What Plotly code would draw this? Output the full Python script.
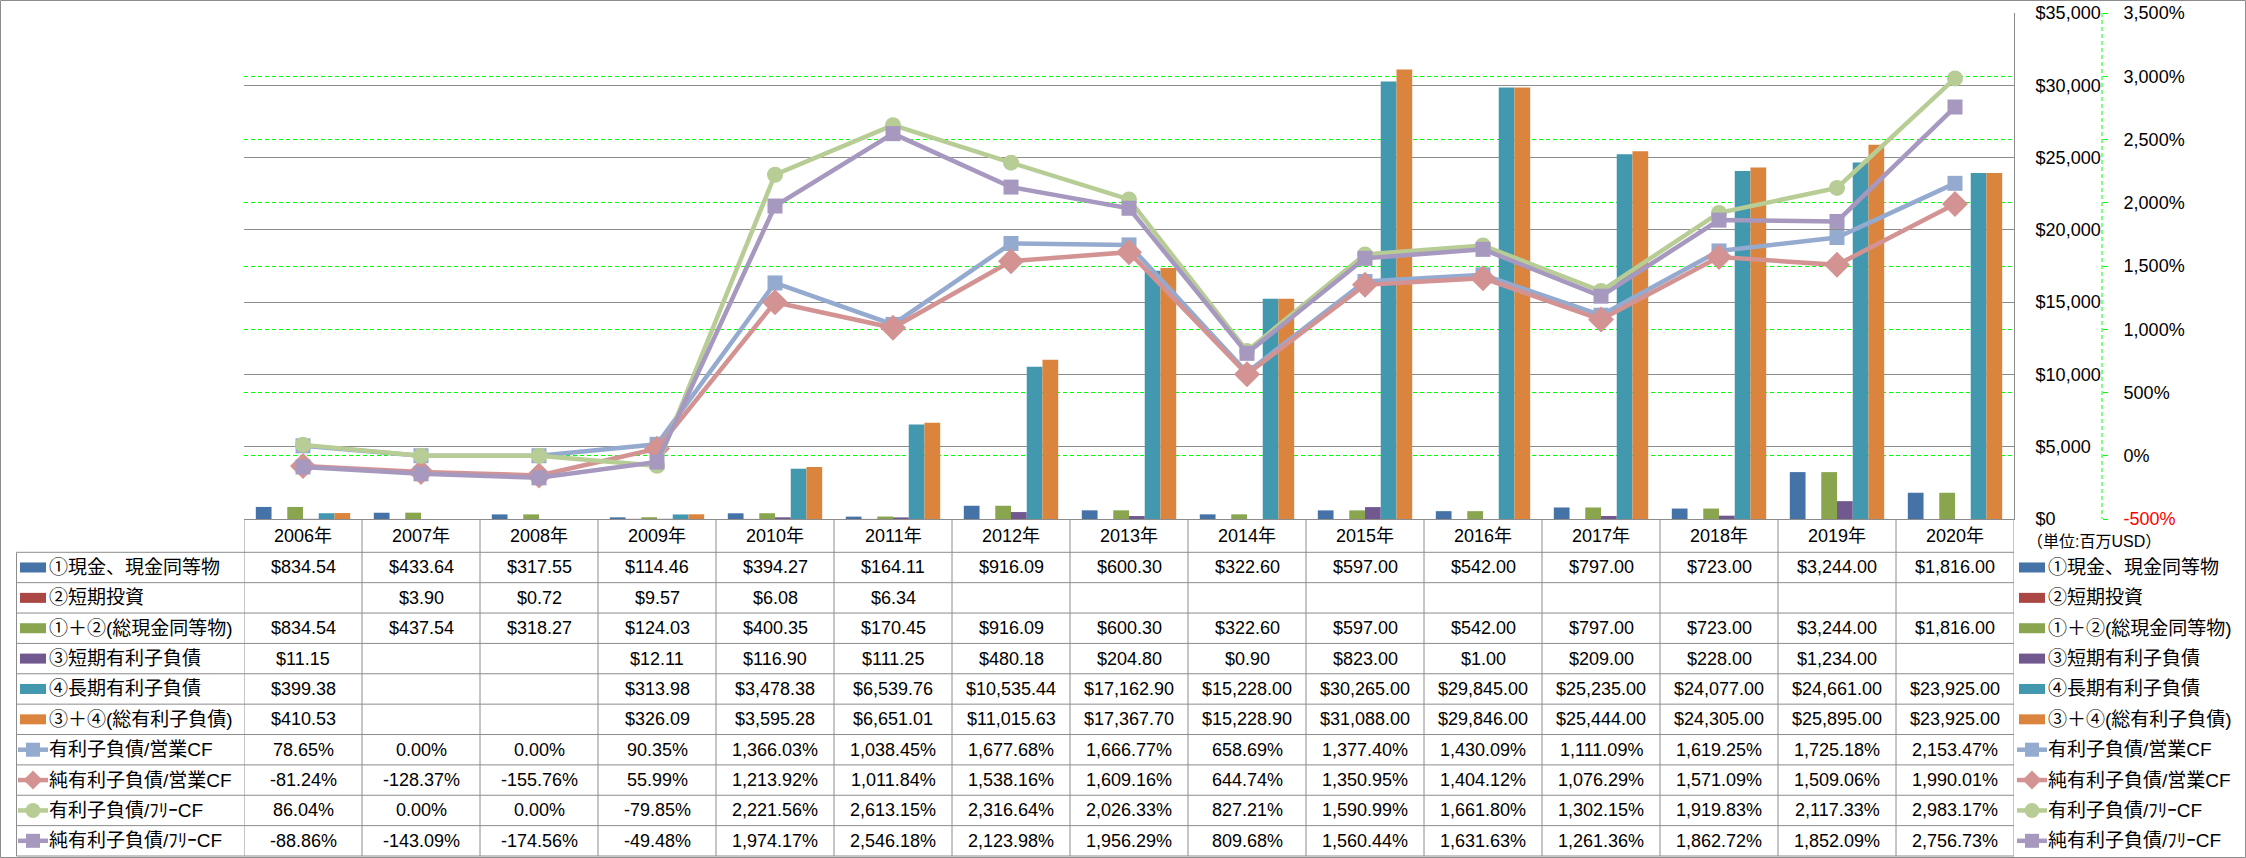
import plotly.graph_objects as go

W, H = 2246, 858

years = ["2006年", "2007年", "2008年", "2009年", "2010年", "2011年", "2012年", "2013年",
         "2014年", "2015年", "2016年", "2017年", "2018年", "2019年", "2020年"]

cash = [834.54, 433.64, 317.55, 114.46, 394.27, 164.11, 916.09, 600.30, 322.60,
        597.00, 542.00, 797.00, 723.00, 3244.00, 1816.00]
short_inv = [None, 3.90, 0.72, 9.57, 6.08, 6.34, None, None, None,
             None, None, None, None, None, None]
total_cash = [834.54, 437.54, 318.27, 124.03, 400.35, 170.45, 916.09, 600.30, 322.60,
              597.00, 542.00, 797.00, 723.00, 3244.00, 1816.00]
short_debt = [11.15, None, None, 12.11, 116.90, 111.25, 480.18, 204.80, 0.90,
              823.00, 1.00, 209.00, 228.00, 1234.00, None]
long_debt = [399.38, None, None, 313.98, 3478.38, 6539.76, 10535.44, 17162.90, 15228.00,
             30265.00, 29845.00, 25235.00, 24077.00, 24661.00, 23925.00]
total_debt = [410.53, None, None, 326.09, 3595.28, 6651.01, 11015.63, 17367.70, 15228.90,
              31088.00, 29846.00, 25444.00, 24305.00, 25895.00, 23925.00]

debt_ocf = [78.65, 0.00, 0.00, 90.35, 1366.03, 1038.45, 1677.68, 1666.77, 658.69,
            1377.40, 1430.09, 1111.09, 1619.25, 1725.18, 2153.47]
netdebt_ocf = [-81.24, -128.37, -155.76, 55.99, 1213.92, 1011.84, 1538.16, 1609.16, 644.74,
               1350.95, 1404.12, 1076.29, 1571.09, 1509.06, 1990.01]
debt_fcf = [86.04, 0.00, 0.00, -79.85, 2221.56, 2613.15, 2316.64, 2026.33, 827.21,
            1590.99, 1661.80, 1302.15, 1919.83, 2117.33, 2983.17]
netdebt_fcf = [-88.86, -143.09, -174.56, -49.48, 1974.17, 2546.18, 2123.98, 1956.29, 809.68,
               1560.44, 1631.63, 1261.36, 1862.72, 1852.09, 2756.73]

usd_ticks = [0, 5000, 10000, 15000, 20000, 25000, 30000, 35000]
pct_ticks = [-500, 0, 500, 1000, 1500, 2000, 2500, 3000, 3500]

# ---- styles ----
C_BLUE, C_RED, C_GREEN, C_PURPLE, C_AQUA, C_ORANGE = (
    "#4572A7", "#AA4643", "#89A54E", "#71588F", "#4198AF", "#DB843D")
L_BLUE, L_PINK, L_GREEN, L_PURPLE = "#95AACF", "#D39393", "#B7CD95", "#A698BF"
GRAY = "#8C8C8C"
LIME = "#00FF00"
FONT = "Liberation Sans, Noto Sans CJK JP, sans-serif"

PLOT_L, PLOT_R, PLOT_T, PLOT_B = 244, 2014, 13, 519
Y2_X = 2102
ROW_TOP = 552.3
ROW_H = 30.37
N_ROWS = 10
TABLE_L = 16.5
TABLE_BOTTOM = ROW_TOP + ROW_H * N_ROWS


def X(px):
    return px / W


def Y(py):
    return 1 - py / H


rows = [
    ("①現金、現金同等物", cash, "bar", C_BLUE, None),
    ("②短期投資", short_inv, "bar", C_RED, None),
    ("①＋②(総現金同等物)", total_cash, "bar", C_GREEN, None),
    ("③短期有利子負債", short_debt, "bar", C_PURPLE, None),
    ("④長期有利子負債", long_debt, "bar", C_AQUA, None),
    ("③＋④(総有利子負債)", total_debt, "bar", C_ORANGE, None),
    ("有利子負債/営業CF", debt_ocf, "line", L_BLUE, "square"),
    ("純有利子負債/営業CF", netdebt_ocf, "line", L_PINK, "diamond"),
    ("有利子負債/ﾌﾘｰCF", debt_fcf, "line", L_GREEN, "circle"),
    ("純有利子負債/ﾌﾘｰCF", netdebt_fcf, "line", L_PURPLE, "square"),
]
marker_sizes = {"square": 15, "diamond": 20, "circle": 16}

fig = go.Figure()

for name, vals, kind, color, sym in rows:
    if kind == "bar":
        fig.add_trace(go.Bar(x=years, y=vals, name=name, marker=dict(color=color, line=dict(width=0)),
                             yaxis="y", hoverinfo="skip"))
for name, vals, kind, color, sym in rows:
    if kind == "line":
        fig.add_trace(go.Scatter(x=years, y=vals, name=name, mode="lines+markers", yaxis="y2",
                                 line=dict(color=color, width=4.5),
                                 marker=dict(symbol=sym, size=marker_sizes[sym], color=color,
                                             line=dict(width=0)),
                                 hoverinfo="skip"))

shapes = []
annotations = []

# outer border
shapes.append(dict(type="rect", xref="paper", yref="paper", x0=X(0.5), x1=X(W - 0.5),
                   y0=Y(0.5), y1=Y(H - 0.5), line=dict(color=GRAY, width=1), layer="below"))
# secondary axis dashed line
shapes.append(dict(type="line", xref="paper", yref="paper", x0=X(Y2_X), x1=X(Y2_X),
                   y0=Y(PLOT_T), y1=Y(PLOT_B), line=dict(color=LIME, width=1, dash="4px,3px")))

# table horizontal lines
for i in range(N_ROWS + 1):
    yy = ROW_TOP + ROW_H * i
    shapes.append(dict(type="line", xref="paper", yref="paper", x0=X(TABLE_L), x1=X(PLOT_R),
                       y0=Y(yy), y1=Y(yy), line=dict(color=GRAY, width=1)))
# table vertical lines
for k in range(len(years) + 1):
    shapes.append(dict(type="line", xref="x", yref="paper", x0=k - 0.5, x1=k - 0.5,
                       y0=Y(PLOT_B), y1=Y(TABLE_BOTTOM), line=dict(color=GRAY, width=1)))
shapes.append(dict(type="line", xref="paper", yref="paper", x0=X(TABLE_L), x1=X(TABLE_L),
                   y0=Y(ROW_TOP), y1=Y(TABLE_BOTTOM), line=dict(color=GRAY, width=1)))

# header years
for yr in years:
    annotations.append(dict(x=yr, xref="x", y=Y((PLOT_B + ROW_TOP) / 2), yref="paper",
                            text=yr, showarrow=False, xanchor="center", yanchor="middle",
                            font=dict(family=FONT, size=18, color="black")))


def icon(kind, color, sym, x0, x1, cy):
    out = []
    cx = (x0 + x1) / 2
    if kind == "bar":
        out.append(dict(type="rect", xref="paper", yref="paper", x0=X(x0 + 2), x1=X(x1 - 2),
                        y0=Y(cy - 5), y1=Y(cy + 5), line=dict(width=0), fillcolor=color))
    else:
        out.append(dict(type="line", xref="paper", yref="paper", x0=X(x0), x1=X(x1),
                        y0=Y(cy), y1=Y(cy), line=dict(color=color, width=4.5)))
        if sym == "square":
            out.append(dict(type="rect", xref="paper", yref="paper", x0=X(cx - 7), x1=X(cx + 7),
                            y0=Y(cy - 7), y1=Y(cy + 7), line=dict(width=0), fillcolor=color))
        elif sym == "circle":
            out.append(dict(type="circle", xref="paper", yref="paper", x0=X(cx - 7.5), x1=X(cx + 7.5),
                            y0=Y(cy - 7.5), y1=Y(cy + 7.5), line=dict(width=0), fillcolor=color))
        else:
            p = "M {} {} L {} {} L {} {} L {} {} Z".format(
                X(cx), Y(cy - 9.5), X(cx + 9.5), Y(cy), X(cx), Y(cy + 9.5), X(cx - 9.5), Y(cy))
            out.append(dict(type="path", xref="paper", yref="paper", path=p,
                            line=dict(width=0), fillcolor=color))
    return out


for i, (name, vals, kind, color, sym) in enumerate(rows):
    cy = ROW_TOP + ROW_H * (i + 0.5)
    # left label column
    shapes.extend(icon(kind, color, sym, 18, 48, cy))
    annotations.append(dict(x=X(47), xref="paper", y=Y(cy), yref="paper", text=name,
                            showarrow=False, xanchor="left", yanchor="middle",
                            font=dict(family=FONT, size=19, color="black")))
    # right legend
    shapes.extend(icon(kind, color, sym, 2017, 2047, cy))
    annotations.append(dict(x=X(2046), xref="paper", y=Y(cy), yref="paper", text=name,
                            showarrow=False, xanchor="left", yanchor="middle",
                            font=dict(family=FONT, size=19, color="black")))
    # values
    for yr, v in zip(years, vals):
        if v is None:
            continue
        txt = "${:,.2f}".format(v) if kind == "bar" else "{:,.2f}%".format(v)
        annotations.append(dict(x=yr, xref="x", y=Y(cy), yref="paper", text=txt,
                                showarrow=False, xanchor="center", yanchor="middle",
                                font=dict(family=FONT, size=18, color="black")))

annotations.append(dict(x=X(2025), xref="paper", y=Y(541), yref="paper", text="（単位:百万USD）",
                        showarrow=False, xanchor="left", yanchor="middle",
                        font=dict(family=FONT, size=16, color="black")))

pct_text = [("<span style='color:red'>{:,}%</span>".format(v) if v < 0 else "{:,}%".format(v))
            for v in pct_ticks]
usd_text = ["${:,}".format(v) for v in usd_ticks]

fig.update_layout(
    width=W, height=H,
    margin=dict(l=0, r=0, t=0, b=0, autoexpand=False),
    paper_bgcolor="white", plot_bgcolor="white",
    showlegend=False,
    barmode="group", bargap=0.2, bargroupgap=0,
    font=dict(family=FONT, size=18, color="black"),
    hovermode=False,
    xaxis=dict(domain=[X(PLOT_L), X(PLOT_R)], type="category", categoryorder="array",
               categoryarray=years, showticklabels=False, ticks="", showgrid=False,
               showline=True, linecolor=GRAY, linewidth=1, zeroline=False, automargin=False,
               range=[-0.5, len(years) - 0.5], fixedrange=True),
    yaxis=dict(domain=[Y(PLOT_B), Y(PLOT_T)], range=[0, 35000], side="right",
               tickvals=usd_ticks, ticktext=usd_text, showgrid=True, gridcolor=GRAY, gridwidth=1,
               showline=True, linecolor=GRAY, linewidth=1, zeroline=False, ticks="",
               ticklabelstandoff=17, automargin=False, tickfont=dict(size=18, family=FONT),
               fixedrange=True),
    yaxis2=dict(overlaying="y", anchor="free", position=X(Y2_X), side="right",
                range=[-500, 3500], tickvals=pct_ticks, ticktext=pct_text,
                showgrid=True, gridcolor=LIME, gridwidth=1, griddash="4px,3px",
                zeroline=False, showline=False, ticks="outside", ticklen=5, tickcolor=LIME,
                tickwidth=1, ticklabelstandoff=12, automargin=False,
                tickfont=dict(size=18, family=FONT), fixedrange=True),
    shapes=shapes,
    annotations=annotations,
)

fig.write_html("out.html", config={"displayModeBar": False, "staticPlot": True},
               post_script="document.body.style.margin='0';document.body.style.overflow='hidden';")
